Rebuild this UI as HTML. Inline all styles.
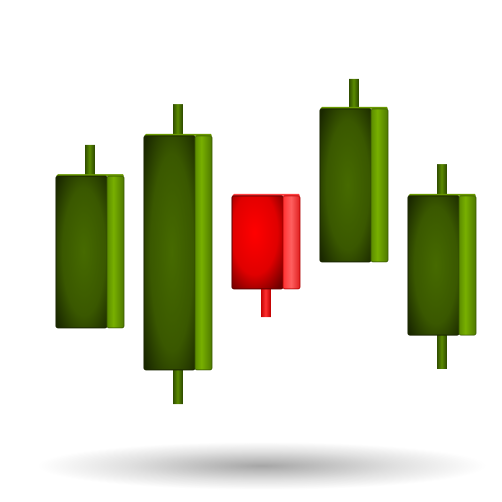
<!DOCTYPE html>
<html><head><meta charset="utf-8"><style>
html,body{margin:0;padding:0;background:#fff;width:502px;height:502px;overflow:hidden}
svg{display:block}
</style></head><body>
<svg id="chart" width="502" height="502" viewBox="0 0 502 502" xmlns="http://www.w3.org/2000/svg">
<defs>
<radialGradient id="gFront" cx="0.55" cy="0.5" r="0.7">
<stop offset="0" stop-color="#466a00"/><stop offset="0.6" stop-color="#3a5800"/><stop offset="1" stop-color="#1a2800"/></radialGradient>
<linearGradient id="gSide" x1="0" y1="0" x2="1" y2="0">
<stop offset="0" stop-color="#5a8a00"/><stop offset="0.4" stop-color="#78b000"/><stop offset="1" stop-color="#4f7a00"/></linearGradient>
<radialGradient id="rFront" cx="0.45" cy="0.4" r="0.75">
<stop offset="0" stop-color="#ff0000"/><stop offset="0.6" stop-color="#e00000"/><stop offset="1" stop-color="#700000"/></radialGradient>
<linearGradient id="rSide" x1="0" y1="0" x2="1" y2="0">
<stop offset="0" stop-color="#ff3030"/><stop offset="0.5" stop-color="#ff6060"/><stop offset="1" stop-color="#e02020"/></linearGradient>
<linearGradient id="gWick" x1="0" y1="0" x2="1" y2="0">
<stop offset="0" stop-color="#2e4a00"/><stop offset="0.5" stop-color="#5a8a00"/><stop offset="1" stop-color="#2e4a00"/></linearGradient>
<linearGradient id="rWick" x1="0" y1="0" x2="1" y2="0">
<stop offset="0" stop-color="#c00000"/><stop offset="0.5" stop-color="#ff3030"/><stop offset="1" stop-color="#c00000"/></linearGradient>
<radialGradient id="shadow" cx="0.5" cy="0.5" r="0.5">
<stop offset="0" stop-color="#000" stop-opacity="0.35"/><stop offset="0.6" stop-color="#000" stop-opacity="0.12"/><stop offset="1" stop-color="#000" stop-opacity="0"/></radialGradient>
</defs>
<ellipse cx="262" cy="466" rx="225" ry="24" fill="url(#shadow)"/>
<g id="candles"></g>
</svg>
<script>
const categories = ["c1","c2","c3","c4","c5"];
const openVals  = [40.7, 26.7, 84.7, 62.7, 38.3];
const closeVals = [91.3, 104.7, 53.7, 113.7, 84.7];
const highVals  = [101.7, 115.3, 84.7, 123.7, 95.3];
const lowVals   = [40.7, 15.3, 44.3, 62.7, 27.0];

function yScale(v){ return 450 - 3*v; }
function xScale(i){ return 56 + i*88; }
const NS = "http://www.w3.org/2000/svg";
const g = document.getElementById("candles");
function mk(tag, attrs){ const e=document.createElementNS(NS,tag); for(const k in attrs) e.setAttribute(k,attrs[k]); return e; }

categories.forEach((c,i)=>{
  const up = closeVals[i] >= openVals[i];
  const x = xScale(i), fw = 51, sw = 17;
  const top = yScale(Math.max(openVals[i],closeVals[i]));
  const bot = yScale(Math.min(openVals[i],closeVals[i]));
  const hi = yScale(highVals[i]), lo = yScale(lowVals[i]);
  const grp = mk("g",{});
  
  
  const wx = x + 29, ww = 10;
  const wick = mk("rect",{x:wx,y:hi,width:ww,height:Math.max(0,lo-hi),fill:up?"url(#gWick)":"url(#rWick)"});
  
  
  grp.appendChild(wick);
  const topFace = mk("path",{d:`M${x} ${top} L${x+2} ${top-2} L${x+fw+sw-1} ${top-2} L${x+fw+sw} ${top} Z`,fill:up?"#6a9a00":"#ff4040"});
  
  
  grp.appendChild(topFace);
  const front = mk("rect",{x:x,y:top,width:fw,height:bot-top,rx:2,fill:up?"url(#gFront)":"url(#rFront)",stroke:up?"#1a2600":"#600000","stroke-width":1});
  
  
  grp.appendChild(front);
  const side = mk("rect",{x:x+fw,y:top,width:sw,height:bot-top,rx:2,fill:up?"url(#gSide)":"url(#rSide)",stroke:up?"#3a5a00":"#b00000","stroke-width":0.8});
  
  
  grp.appendChild(side);
  g.appendChild(grp);
});
</script>
</body></html>
